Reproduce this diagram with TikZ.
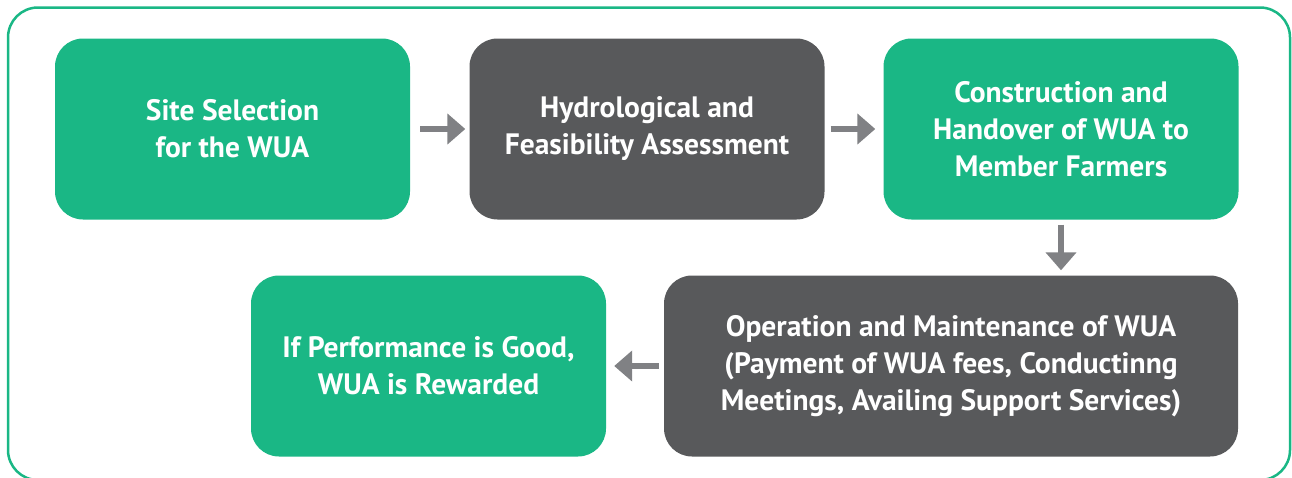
\documentclass[tikz,border=0pt]{standalone}
\usepackage{fontspec}
\setmainfont{PT Sans}
\usetikzlibrary{arrows.meta}
\definecolor{wuagreen}{HTML}{1AB785}
\definecolor{wuagray}{HTML}{58595B}
\definecolor{arrowgray}{HTML}{808184}
\begin{document}
\begin{tikzpicture}[x=1pt,y=-1pt,
  stage/.style={rectangle, rounded corners=28pt, inner sep=0pt,
    minimum width=355pt, minimum height=181pt, text=white, align=center,
    font=\fontsize{29.5}{37}\selectfont\bfseries},
  greenstage/.style={stage, fill=wuagreen},
  graystage/.style={stage, fill=wuagray},
  flow/.style={draw=arrowgray, line width=6.5pt,
    -{Triangle[length=18pt,width=30pt]}}]
  \useasboundingbox (0,0) rectangle (1292,477);
  % outer frame, its lower edge runs just past the page
  \draw[wuagreen, line width=2.5pt, rounded corners=30pt] (8,7.5) rectangle (1290,480);
  % stages
  \node[greenstage] (s1) at (232.5,129) {Site Selection\\for the WUA};
  \node[graystage]  (s2) at (647,129) {Hydrological and\\Feasibility Assessment};
  \node[greenstage] (s3) at (1061,129) {Construction and\\Handover of WUA to\\Member Farmers};
  \node[graystage, minimum width=574pt] (s4) at (951,366) {Operation and Maintenance of WUA\\(Payment of WUA fees, Conductinng\\Meetings, Availing Support Services)};
  \node[greenstage] (s5) at (428.5,366) {If Performance is Good,\\WUA is Rewarded};
  % connectors
  \draw[flow, shorten <=10pt, shorten >=4pt] (s1.east) -- (s2.west);
  \draw[flow, shorten <=6pt, shorten >=8pt] (s2.east) -- (s3.west);
  \draw[flow, shorten <=5pt, shorten >=5pt] (s3.south) -- (s3.south |- s4.north);
  \draw[flow, shorten <=5pt, shorten >=8pt] (s4.west) -- (s5.east);
\end{tikzpicture}
\end{document}
